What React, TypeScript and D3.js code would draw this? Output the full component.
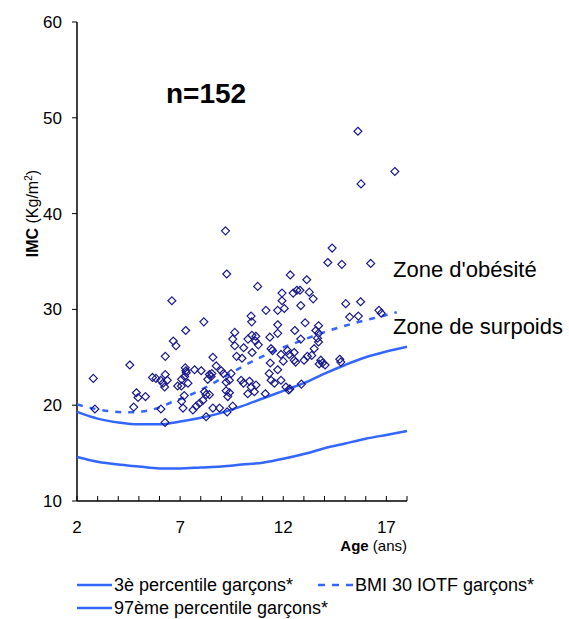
import React, { useEffect, useRef } from "react";
import * as d3 from "d3";

// individual BMI values (age in years, IMC in kg/m2)
const ages = [
  15.62, 15.77, 17.41, 9.2, 9.26, 14.37, 14.16, 14.84, 16.24, 10.76,
  12.34, 13.14, 11.94, 12.48, 12.66, 12.81, 13.26, 13.45, 11.94, 12.05,
  11.73, 12.85, 15.03, 15.75, 15.22, 15.64, 16.64, 16.75, 11.73, 11.73,
  13.06, 12.56, 13.71, 13.58, 13.71, 13.66, 12.85, 13.71, 13.5, 11.41,
  11.48, 11.89, 12.21, 12.29, 12.53, 12.53, 12.6, 13.01, 13.17, 13.38,
  13.82, 13.9, 14.03, 13.74, 14.74, 14.79, 11.37, 11.73, 11.41, 11.57,
  11.89, 12.13, 12.26, 12.32, 12.88, 11.16, 10.44, 10.47, 8.15, 7.27,
  9.65, 10.48, 10.67, 10.29, 10.65, 11.35, 9.65, 10.08, 10.79, 10.49,
  8.59, 9.74, 9.55, 7.3, 7.7, 8.02, 8.42, 8.54, 8.75, 8.99,
  9.1, 9.47, 7.38, 9.23, 9.96, 10.07, 10.36, 10.68, 10.28, 11.32,
  7.14, 8.18, 8.26, 8.42, 8.1, 7.94, 7.78, 7.62, 9.23, 9.39,
  9.31, 8.91, 9.28, 8.26, 10.6, 10.44, 11.13, 9.55, 8.59, 6.6,
  6.67, 6.8, 6.28, 4.56, 2.79, 5.66, 5.83, 6.06, 6.28, 6.38,
  6.17, 6.25, 7.07, 7.25, 7.28, 7.22, 6.88, 7.06, 4.88, 4.96,
  5.32, 2.87, 4.75, 6.07, 6.27, 7.2, 7.07, 8.34, 8.5, 9.39,
  12.0, 10.0,
];
const imc = [
  48.6, 43.1, 44.4, 38.2, 33.7, 36.4, 34.9, 34.7, 34.8, 32.4,
  33.6, 33.1, 31.7, 31.7, 32.0, 32.0, 31.8, 31.1, 30.9, 30.1,
  29.9, 30.4, 30.6, 30.8, 29.2, 29.3, 29.9, 29.6, 28.4, 27.5,
  28.6, 27.8, 28.3, 27.8, 27.5, 27.0, 26.9, 26.6, 25.9, 25.9,
  25.7, 25.3, 25.7, 25.3, 25.5, 24.7, 24.5, 24.7, 25.1, 25.2,
  24.7, 24.4, 24.2, 24.3, 24.8, 24.5, 24.4, 23.7, 22.6, 22.3,
  22.6, 21.9, 21.6, 21.7, 22.2, 29.9, 29.3, 28.7, 28.7, 27.8,
  27.6, 27.3, 27.2, 26.9, 26.7, 27.1, 26.2, 26.0, 26.3, 25.5,
  25.0, 25.1, 26.9, 23.4, 23.7, 23.6, 23.2, 23.3, 24.1, 23.6,
  23.3, 23.3, 22.3, 22.4, 22.6, 22.3, 22.5, 22.1, 21.2, 23.3,
  19.7, 21.4, 21.1, 21.1, 20.5, 20.2, 19.9, 19.5, 21.5, 21.3,
  20.9, 19.7, 19.3, 18.8, 21.4, 21.9, 21.2, 19.9, 19.7, 30.9,
  26.7, 26.2, 25.1, 24.2, 22.8, 22.9, 22.8, 22.6, 23.2, 22.6,
  22.3, 21.9, 22.7, 23.9, 23.6, 23.0, 22.0, 22.0, 21.3, 20.8,
  20.9, 19.6, 19.8, 19.6, 18.2, 21.0, 20.4, 22.7, 23.0, 22.6,
  24.6, 24.9,
];

// reference curves
const refAges = [2, 3, 4, 5, 6, 7, 8, 9, 10, 11, 12, 13, 14, 15, 16, 17, 18];
const p3 = [14.6, 14.1, 13.8, 13.6, 13.4, 13.4, 13.5, 13.6, 13.8, 14.0, 14.4, 14.9, 15.5, 16.0, 16.5, 16.9, 17.3];
const p97 = [19.3, 18.6, 18.2, 18.0, 18.0, 18.3, 18.7, 19.2, 19.9, 20.7, 21.5, 22.3, 23.3, 24.2, 25.0, 25.6, 26.1];
const iotfAges = [2, 2.5, 3, 3.5, 4, 4.5, 5, 5.5, 6, 6.5, 7, 7.5, 8, 8.5, 9, 9.5, 10, 10.5, 11, 11.5, 12, 12.5, 13, 13.5, 14, 14.5, 15, 15.5, 16, 16.5, 17, 17.5];
const iotf30 = [20.09, 19.8, 19.57, 19.39, 19.29, 19.26, 19.3, 19.47, 19.78, 20.23, 20.63, 21.09, 21.6, 22.17, 22.77, 23.39, 24.0, 24.57, 25.1, 25.58, 26.02, 26.43, 26.84, 27.25, 27.63, 27.98, 28.3, 28.6, 28.88, 29.14, 29.41, 29.7];

const xTickLabels = [2, 7, 12, 17];
const yTickLabels = [10, 20, 30, 40, 50, 60];

const FONT = "'Liberation Sans', Arial, sans-serif";
const BLUE = "#3366ff";
const NAVY = "#1a1a8c";

export default function App() {
  const ref = useRef<SVGSVGElement>(null);

  useEffect(() => {
    const svg = d3.select(ref.current);
    svg.selectAll("*").remove();

    const x = d3.scaleLinear().domain([2, 18]).range([77, 407]);
    const y = d3.scaleLinear().domain([10, 60]).range([501, 22]);

    // axes
    svg.append("line").attr("x1", x(2)).attr("x2", x(2)).attr("y1", y(60)).attr("y2", y(10))
      .attr("stroke", "#000").attr("stroke-width", 1.5);
    svg.append("line").attr("x1", x(2)).attr("x2", x(18)).attr("y1", y(10)).attr("y2", y(10))
      .attr("stroke", "#000").attr("stroke-width", 1.5);

    svg.selectAll(".xtick").data(d3.range(2, 19)).enter().append("line")
      .attr("x1", d => x(d)).attr("x2", d => x(d))
      .attr("y1", y(10)).attr("y2", y(10) - 5)
      .attr("stroke", "#000").attr("stroke-width", 1);
    svg.selectAll(".ytick").data(yTickLabels).enter().append("line")
      .attr("x1", x(2) - 5).attr("x2", x(2))
      .attr("y1", d => y(d)).attr("y2", d => y(d))
      .attr("stroke", "#000").attr("stroke-width", 1);

    svg.selectAll(".xlab").data(xTickLabels).enter().append("text")
      .attr("x", d => x(d)).attr("y", 533)
      .attr("text-anchor", "middle").attr("font-family", FONT).attr("font-size", 17)
      .text(d => d);
    svg.selectAll(".ylab").data(yTickLabels).enter().append("text")
      .attr("x", 62).attr("y", d => y(d) + 6)
      .attr("text-anchor", "end").attr("font-family", FONT).attr("font-size", 17)
      .text(d => d);

    // axis titles
    const xt = svg.append("text").attr("x", 407).attr("y", 551).attr("text-anchor", "end")
      .attr("font-family", FONT).attr("font-size", 15);
    xt.append("tspan").attr("font-weight", "bold").text("Age");
    xt.append("tspan").text(" (ans)");

    const yt = svg.append("text").attr("transform", `translate(38,${y(40)}) rotate(-90)`)
      .attr("text-anchor", "middle").attr("font-family", FONT).attr("font-size", 16);
    yt.append("tspan").attr("font-weight", "bold").text("IMC");
    yt.append("tspan").text(" (Kg/m");
    yt.append("tspan").attr("font-size", 10).attr("dy", -6).text("2");
    yt.append("tspan").attr("dy", 6).text(")");

    // reference curves
    const curve = (xs: number[], ys: number[]) =>
      d3.line<number>().x((_, i) => x(xs[i])).y(d => y(d)).curve(d3.curveMonotoneX)(ys);

    svg.append("path").attr("d", curve(refAges, p3)).attr("fill", "none")
      .attr("stroke", BLUE).attr("stroke-width", 2.5);
    svg.append("path").attr("d", curve(refAges, p97)).attr("fill", "none")
      .attr("stroke", BLUE).attr("stroke-width", 2.5);
    svg.append("path").attr("d", curve(iotfAges, iotf30)).attr("fill", "none")
      .attr("stroke", BLUE).attr("stroke-width", 2.5).attr("stroke-dasharray", "6,7");

    // points
    const diamond = d3.symbol().type(d3.symbolDiamond2).size(40);
    svg.selectAll(".pt").data(ages).enter().append("path")
      .attr("d", diamond)
      .attr("transform", (d, i) => `translate(${x(d)},${y(imc[i])})`)
      .attr("fill", "none").attr("stroke", NAVY).attr("stroke-width", 1.2);

    // annotations
    svg.append("text").attr("x", 166).attr("y", 103).attr("font-family", FONT)
      .attr("font-size", 28).attr("font-weight", "bold").text("n=152");
    svg.append("text").attr("x", 393).attr("y", 277).attr("font-family", FONT)
      .attr("font-size", 22).text("Zone d'obésité");
    svg.append("text").attr("x", 393).attr("y", 334).attr("font-family", FONT)
      .attr("font-size", 22).text("Zone de surpoids");

    // legend
    const leg = [
      { x: 77, y: 585, dash: null, label: "3è percentile garçons*" },
      { x: 318, y: 585, dash: "7,7", label: "BMI 30 IOTF garçons*" },
      { x: 77, y: 608, dash: null, label: "97ème percentile garçons*" },
    ];
    leg.forEach(l => {
      svg.append("line").attr("x1", l.x).attr("x2", l.x + 35).attr("y1", l.y).attr("y2", l.y)
        .attr("stroke", BLUE).attr("stroke-width", 2.5)
        .attr("stroke-dasharray", l.dash);
      svg.append("text").attr("x", l.x + 37).attr("y", l.y + 6).attr("font-family", FONT)
        .attr("font-size", 18).text(l.label);
    });
  }, []);

  return (
    <svg ref={ref} width={569} height={619}
      style={{ position: "absolute", left: 0, top: 0, background: "#fff" }} />
  );
}
